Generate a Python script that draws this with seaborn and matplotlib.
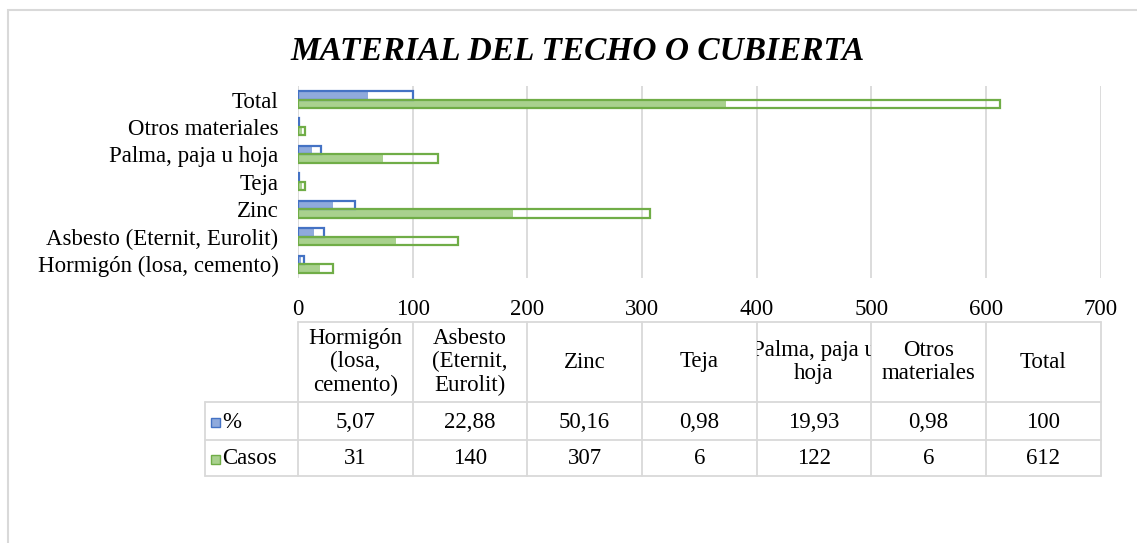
import numpy as np
import pandas as pd
import seaborn as sns
import matplotlib.pyplot as plt
from matplotlib.patches import Rectangle
from matplotlib.transforms import Bbox, TransformedBbox

# datos
categorias = ["Hormigón (losa, cemento)", "Asbesto (Eternit, Eurolit)", "Zinc", "Teja",
              "Palma, paja u hoja", "Otros materiales", "Total"]
encabezados = ["Hormigón\n(losa,\ncemento)", "Asbesto\n(Eternit,\nEurolit)", "Zinc", "Teja",
               "Palma, paja u\nhoja", "Otros\nmateriales", "Total"]
porcentaje = [5.07, 22.88, 50.16, 0.98, 19.93, 0.98, 100]
casos = [31, 140, 307, 6, 122, 6, 612]
series = ["%", "Casos"]
ticks_x = [0, 100, 200, 300, 400, 500, 600, 700]

df = pd.DataFrame({
    "categoria": categorias * 2,
    "serie": [series[0]] * len(categorias) + [series[1]] * len(categorias),
    "valor": porcentaje + casos,
})

relleno = {"%": "#8FAADC", "Casos": "#A9D18E"}
borde = {"%": "#4472C4", "Casos": "#70AD47"}
gris = "#D9D9D9"

sns.set_theme(style="white")
plt.rcParams["font.family"] = ["Liberation Serif", "DejaVu Serif"]
plt.rcParams["text.color"] = "black"
plt.rcParams["xtick.color"] = "black"
plt.rcParams["ytick.color"] = "black"

fig = plt.figure(figsize=(11.37, 5.43), dpi=100)
ax = fig.add_axes([0.262, 0.488, 0.706, 0.354])

sns.barplot(data=df, y="categoria", x="valor", hue="serie", order=categorias[::-1],
            hue_order=series, orient="h", width=0.62, palette=relleno, legend=False, ax=ax)

# barras tipo excel: contorno de color y relleno hasta ~60%
for cont, s in zip(ax.containers, series):
    for p in cont:
        ax.add_patch(Rectangle((p.get_x(), p.get_y()), p.get_width() * 0.61, p.get_height(),
                               facecolor=relleno[s], linewidth=0, zorder=3.5))
        p.set_facecolor("none")
        p.set_edgecolor(borde[s])
        p.set_linewidth(1.6)
        p.set_zorder(4)

ax.set_xlim(0, 700)
ax.set_xticks(ticks_x)
ax.grid(axis="x", color=gris, linewidth=1.3)
ax.set_axisbelow(True)
for sp in ax.spines.values():
    sp.set_visible(False)
ax.tick_params(length=0, labelsize=16.5)
ax.tick_params(axis="y", pad=14)
ax.tick_params(axis="x", pad=15)
ax.set_xlabel("")
ax.set_ylabel("")

# tabla de datos debajo del grafico
ax_t = fig.add_axes([0.262, 1 - 476 / 543, 0.706, 154 / 543])
ax_t.set_xlim(0, 700)
ax_t.set_ylim(154, 0)
ax_t.axis("off")
x_izq = -81
linea = dict(color=gris, linewidth=1.3, clip_on=False)
ax_t.plot([0, 700], [0, 0], **linea)
for y in [80, 118, 154]:
    ax_t.plot([x_izq, 700], [y, y], **linea)
for x in ticks_x:
    ax_t.plot([x, x], [0, 154], **linea)
ax_t.plot([x_izq, x_izq], [80, 154], **linea)


def fmt(v):
    return str(int(v)) if float(v).is_integer() else f"{v:.2f}".replace(".", ",")


for i, h in enumerate(encabezados):
    t = ax_t.text(i * 100 + 50, 40, h, ha="center", va="center", fontsize=16.5, linespacing=1.15)
    t.set_clip_box(TransformedBbox(Bbox([[i * 100, 0], [i * 100 + 100, 80]]), ax_t.transData))
    t.set_clip_on(True)

for fila, (s, vals) in enumerate(zip(series, [porcentaje, casos])):
    yc = 100 + fila * 37
    ax_t.add_patch(Rectangle((-75.5, yc - 4.5), 7.5, 9, facecolor=relleno[s], edgecolor=borde[s],
                             linewidth=1, clip_on=False))
    ax_t.text(-66, yc, s, ha="left", va="center", fontsize=16.5, clip_on=False)
    for i, v in enumerate(vals):
        ax_t.text(i * 100 + 50, yc, fmt(v), ha="center", va="center", fontsize=16.5)

fig.text(0.508, 0.905, "MATERIAL DEL TECHO O CUBIERTA", ha="center", va="center",
         fontsize=24, fontweight="bold", fontstyle="italic")

# marco del area del grafico
fig.add_artist(Rectangle((8 / 1137, -0.1), 1.1, 1.1 - 10 / 543, transform=fig.transFigure,
                         fill=False, edgecolor=gris, linewidth=1.5))

fig.savefig("out.png", dpi=100)
